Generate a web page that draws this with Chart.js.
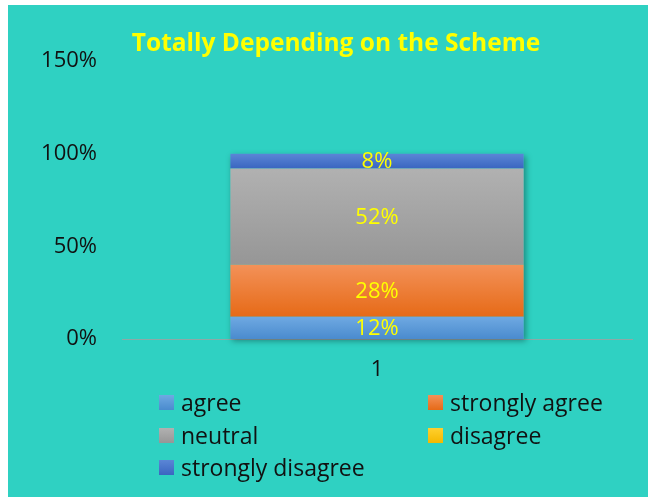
<!DOCTYPE html>
<html>
<head>
<meta charset="utf-8">
<script src="https://cdn.jsdelivr.net/npm/chart.js@4.4.1/dist/chart.umd.min.js"></script>
<style>
  html, body { margin: 0; padding: 0; background: #fff; }
  #wrap {
    position: absolute; left: 8px; top: 5px; width: 640px; height: 492px;
    background: #2FD1C2;
  }
  #legend {
    position: absolute; left: 0; top: 0; width: 640px; height: 492px;
    pointer-events: none;
    font-family: "Open Sans", sans-serif; font-size: 23px; color: #111;
  }
  .item { position: absolute; display: flex; align-items: center; white-space: nowrap; }
  .sw { width: 15px; height: 15px; margin-right: 7px; }
</style>
</head>
<body>
<div id="wrap">
  <canvas id="chart" width="640" height="492"></canvas>
  <div id="legend"></div>
</div>
<script>
document.addEventListener('DOMContentLoaded', () => {

  // dữ liệu
  const categories = ['1'];
  const seriesNames = ['agree', 'strongly agree', 'neutral', 'disagree', 'strongly disagree'];
  const seriesValues = [[12], [28], [52], [0], [8]];
  const yTicks = [0, 50, 100, 150];
  const titleText = 'Totally Depending on the Scheme';

  // màu: trên sáng, dưới đậm
  const colorsTop = ['#6FA9E2', '#F39158', '#B1B1B1', '#FFD02E', '#5B86D6'];
  const colorsBottom = ['#4A8BCE', '#E66A17', '#969696', '#F5B800', '#3A66C0'];
  const legendColors = ['#5B9BD5', '#ED7D31', '#A5A5A5', '#FFC000', '#4472C4'];

  const FONT = '"Open Sans", sans-serif';

  function segFill(ctx, i) {
    const chart = ctx.chart;
    const y = chart.scales && chart.scales.y;
    if (!y || !chart.chartArea || y.bottom === undefined) return legendColors[i];
    let base = 0;
    for (let k = 0; k < i; k++) base += seriesValues[k][ctx.dataIndex || 0];
    const top = base + seriesValues[i][ctx.dataIndex || 0];
    const y0 = y.getPixelForValue(top);
    const y1 = y.getPixelForValue(base);
    if (!isFinite(y0) || !isFinite(y1) || y0 === y1) return legendColors[i];
    const g = chart.ctx.createLinearGradient(0, y0, 0, y1);
    g.addColorStop(0, colorsTop[i]);
    g.addColorStop(1, colorsBottom[i]);
    return g;
  }

  const datasets = seriesNames.map((name, i) => ({
    label: name,
    data: seriesValues[i],
    backgroundColor: ctx => segFill(ctx, i),
    borderWidth: 0,
    barPercentage: 0.575,
    categoryPercentage: 1
  }));

  // bóng đổ phía sau cột
  const shadowPlugin = {
    id: 'stackShadow',
    beforeDatasetsDraw(chart) {
      const first = chart.getDatasetMeta(0).data[0];
      const last = chart.getDatasetMeta(seriesNames.length - 1).data[0];
      if (!first || !last) return;
      const c = chart.ctx;
      c.save();
      c.shadowColor = 'rgba(0,0,0,0.35)';
      c.shadowBlur = 6;
      c.shadowOffsetX = 2;
      c.shadowOffsetY = 2;
      c.fillStyle = '#2FD1C2';
      c.fillRect(first.x - first.width / 2, last.y, first.width, first.base - last.y);
      c.restore();
    }
  };

  // nhãn giá trị
  const labelPlugin = {
    id: 'valueLabels',
    afterDatasetsDraw(chart) {
      const c = chart.ctx;
      c.save();
      c.fillStyle = '#FFFF00';
      c.font = '22px ' + FONT;
      c.textAlign = 'center';
      c.textBaseline = 'middle';
      chart.data.datasets.forEach((ds, i) => {
        chart.getDatasetMeta(i).data.forEach((el, j) => {
          const v = ds.data[j];
          if (!v) return;
          c.fillText(v + '%', el.x, (el.y + el.base) / 2 + 1);
        });
      });
      c.restore();
    }
  };

  // tiêu đề
  const titlePlugin = {
    id: 'topTitle',
    afterDraw(chart) {
      const c = chart.ctx;
      c.save();
      c.fillStyle = '#FFFF00';
      c.font = 'bold 24.5px ' + FONT;
      c.textAlign = 'center';
      c.textBaseline = 'middle';
      c.fillText(titleText, 328, 39);
      c.restore();
    }
  };

  new Chart(document.getElementById('chart'), {
    type: 'bar',
    data: { labels: categories, datasets },
    plugins: [shadowPlugin, labelPlugin, titlePlugin],
    options: {
      responsive: false,
      animation: false,
      layout: { padding: { left: 8, right: 16, top: 56, bottom: 98 } },
      plugins: { legend: { display: false }, title: { display: false }, tooltip: { enabled: false } },
      scales: {
        x: {
          stacked: true,
          grid: { display: false, drawTicks: false },
          border: { display: true, color: '#8FA8A6', width: 1 },
          ticks: { color: '#111', font: { family: FONT, size: 22 }, padding: 18 },
          afterFit: s => { s.height = 60; }
        },
        y: {
          stacked: true,
          min: 0, max: 150,
          afterBuildTicks: s => { s.ticks = yTicks.map(v => ({ value: v })); },
          grid: { display: false, drawTicks: false },
          border: { display: false },
          ticks: { color: '#111', font: { family: FONT, size: 22 }, padding: 25, callback: v => v + '%' },
          afterFit: s => { s.width = 106; }
        }
      }
    }
  });

  // chú giải (2 cột)
  const legendEl = document.getElementById('legend');
  const colX = [151, 420];
  const rowY = [398, 431, 463];
  seriesNames.forEach((name, i) => {
    const item = document.createElement('div');
    item.className = 'item';
    item.style.left = colX[i % 2] + 'px';
    item.style.top = (rowY[Math.floor(i / 2)] - 17) + 'px';
    item.innerHTML = '<span class="sw" style="background:linear-gradient(' +
      colorsTop[i] + ',' + colorsBottom[i] + ')"></span><span>' + name + '</span>';
    legendEl.appendChild(item);
  });
});
</script>
</body>
</html>
